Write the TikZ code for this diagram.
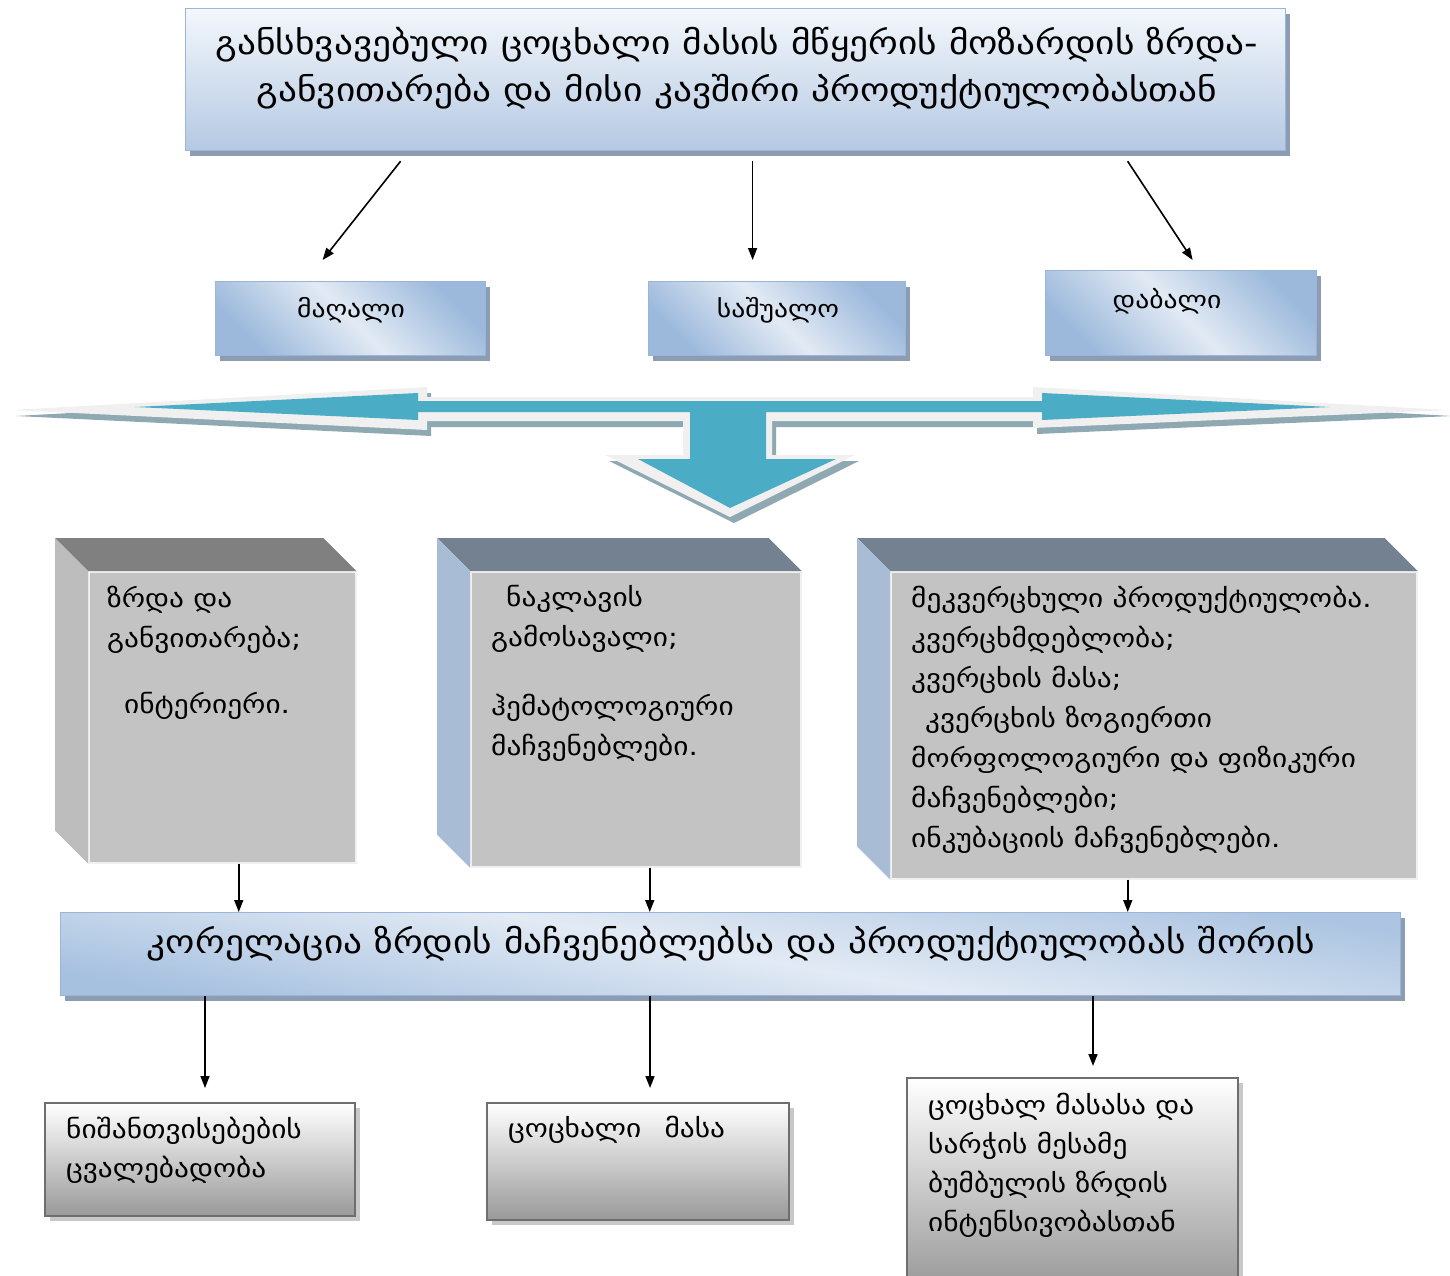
\documentclass[tikz,border=0pt]{standalone}
\usepackage{fontspec}
\setmainfont[FakeStretch=1.15]{DejaVu Sans}
\usetikzlibrary{arrows.meta,shadows,calc}
\definecolor{bshadow}{HTML}{8C9CB3}
\definecolor{bborder}{HTML}{9BB5D8}
\definecolor{blueA}{HTML}{9CB9DC}
\definecolor{blueL}{HTML}{E2EAF4}
\definecolor{titleTop}{HTML}{F3F7FB}
\definecolor{titleBot}{HTML}{B5C9E3}
\definecolor{teal}{HTML}{4BACC6}
\definecolor{arrgrey}{HTML}{F0F0F0}
\definecolor{arrshadow}{HTML}{8FA9B3}
\definecolor{frontc}{HTML}{C3C3C3}
\definecolor{topgrey}{HTML}{808080}
\definecolor{leftgrey}{HTML}{BDBDBD}
\definecolor{topslate}{HTML}{748190}
\definecolor{leftblue}{HTML}{A9BCD5}
\definecolor{gborder}{HTML}{6E6E6E}
\definecolor{gbottom}{HTML}{999999}
\definecolor{gshadow}{HTML}{C8C8C8}
\begin{document}
\begin{tikzpicture}[x=1pt,y=-1pt,
  bluebox/.style={draw=bborder, line width=1.2pt, anchor=north west, inner sep=0,
    general shadow={fill=bshadow, shadow xshift=4pt, shadow yshift=-5pt}},
  titleshade/.style={top color=titleTop, bottom color=titleBot},
  midshade/.style={top color=blueA, bottom color=blueA, middle color=blueL, shading angle=-45},
  corrshade/.style={top color=blueA!75!blueL, bottom color=blueA!90, middle color=blueL, shading angle=-10},
  greybox/.style={draw=gborder, line width=2pt, anchor=north west, inner sep=0,
    top color=white, bottom color=gbottom,
    general shadow={fill=gshadow, shadow xshift=5pt, shadow yshift=-5pt}},
  front/.style={fill=frontc, draw=white!88!gray, line width=1.5pt, anchor=north west, inner sep=0},
  txt/.style={inner sep=0, align=left, anchor=west},
  arr/.style={-{Triangle[length=12pt,width=9pt]}, line width=1.6pt}
]
\useasboundingbox (0,0) rectangle (1450,1276);

% ---------- title ----------
\node[bluebox, titleshade, minimum width=1100, minimum height=142] (title) at (185,8) {};
\node[inner sep=0, align=center, font=\fontsize{32.5}{47}\selectfont] (titletext) at (737,68)
  {განსხვავებული ცოცხალი მასის მწყერის მოზარდის ზრდა-\\განვითარება და მისი კავშირი პროდუქტიულობასთან};

% ---------- level boxes ----------
\node[bluebox, midshade, minimum width=270, minimum height=74] (b1) at (215,281) {};
\node[bluebox, midshade, minimum width=257, minimum height=74] (b2) at (648,281) {};
\node[bluebox, midshade, minimum width=271, minimum height=85] (b3) at (1045,270) {};
\node[inner sep=0, font=\fontsize{24}{26}\selectfont] (b1t) at (351,310) {მაღალი};
\node[inner sep=0, font=\fontsize{24}{26}\selectfont] (b2t) at (778,310) {საშუალო};
\node[inner sep=0, font=\fontsize{24}{26}\selectfont] (b3t) at (1167,301) {დაბალი};

\draw[arr] ([xshift=-335pt,yshift=-10pt]title.south) -- ([xshift=-28pt,yshift=21pt]b1.north);
\draw[arr] ([xshift=17pt,yshift=-10pt]title.south) -- ([xshift=-24.5pt,yshift=21pt]b2.north);
\draw[arr] ([xshift=392pt,yshift=-10pt]title.south) -- ([xshift=11.5pt,yshift=10pt]b3.north);

% ---------- three-way arrow ----------
\fill[arrshadow] (16,416) -- (431,393) -- (431,403) -- (1037,403) -- (1037,393) -- (1452,416) -- (1037,434) -- (1037,427) -- (776,427) -- (776,461) -- (859,461) -- (734,523) -- (609,461) -- (687,461) -- (687,427) -- (431,427) -- (431,436) -- cycle;
\fill[arrgrey] (12,410) -- (427,387) -- (427,397) -- (1033,397) -- (1033,387) -- (1448,410) -- (1033,428) -- (1033,421) -- (772,421) -- (772,455) -- (855,455) -- (730,517) -- (605,455) -- (683,455) -- (683,421) -- (427,421) -- (427,430) -- cycle;
\fill[teal] (135,407) -- (418,393) -- (418,401) -- (1042,401) -- (1042,393) -- (1330,407) -- (1042,420) -- (1042,412) -- (766,412) -- (766,459) -- (836,459) -- (730,508) -- (638,459) -- (690,459) -- (690,412) -- (418,412) -- (418,420) -- cycle;

% ---------- 3D boxes ----------
\node[front, minimum width=267, minimum height=291] (f1) at (88,571) {};
\fill[topgrey] (f1.north west) -- ++(-33,-33) -- ($(f1.north east)+(-33,-33)$) -- (f1.north east) -- cycle;
\fill[leftgrey] (f1.north west) -- ++(-33,-33) -- ($(f1.south west)+(-33,-33)$) -- (f1.south west) -- cycle;

\node[front, minimum width=330, minimum height=295] (f2) at (470,571) {};
\fill[topslate] (f2.north west) -- ++(-33,-33) -- ($(f2.north east)+(-33,-33)$) -- (f2.north east) -- cycle;
\fill[leftblue] (f2.north west) -- ++(-33,-33) -- ($(f2.south west)+(-33,-33)$) -- (f2.south west) -- cycle;

\node[front, minimum width=526, minimum height=307] (f3) at (890,571) {};
\fill[topslate] (f3.north west) -- ++(-33,-33) -- ($(f3.north east)+(-33,-33)$) -- (f3.north east) -- cycle;
\fill[leftblue] (f3.north west) -- ++(-33,-33) -- ($(f3.south west)+(-33,-33)$) -- (f3.south west) -- cycle;

\begin{scope}[every node/.style={txt, font=\fontsize{25.5}{40}\selectfont}]
\node (t1a) at (107,620) {ზრდა და\\განვითარება;};
\node (t1b) at (124,706) {ინტერიერი.};
\node (t2a) at (491,619) {\hspace*{15pt}ნაკლავის\\გამოსავალი;};
\node (t2b) at (491,728) {ჰემატოლოგიური\\მაჩვენებლები.};
\node (t3) at (911,720) {მეკვერცხული პროდუქტიულობა.\\კვერცხმდებლობა;\\კვერცხის მასა;\\\hspace*{14pt}კვერცხის ზოგიერთი\\მორფოლოგიური და ფიზიკური\\მაჩვენებლები;\\ინკუბაციის მაჩვენებლები.};
\end{scope}

% ---------- correlation ----------
\node[bluebox, corrshade, minimum width=1340, minimum height=83] (corr) at (60,912) {};
\node[inner sep=0, font=\fontsize{32.5}{34}\selectfont] (corrt) at (731,944)
  {კორელაცია ზრდის მაჩვენებლებსა და პროდუქტიულობას შორის};

\draw[arr] ([xshift=16.5pt]f1.south) -- ([xshift=16.5pt]f1.south |- corr.north);
\draw[arr] ([xshift=14pt]f2.south) -- ([xshift=14pt]f2.south |- corr.north);
\draw[arr] ([xshift=-26pt]f3.south) -- ([xshift=-26pt]f3.south |- corr.north);

% ---------- bottom boxes ----------
\node[greybox, minimum width=310, minimum height=113] (g1) at (44,1102) {};
\node[greybox, minimum width=302, minimum height=117] (g2) at (486,1102) {};
\node[greybox, minimum width=331, minimum height=210] (g3) at (906,1077) {};

\begin{scope}[every node/.style={txt, font=\fontsize{25.5}{39}\selectfont}]
\node (g1t) at (66,1150) {ნიშანთვისებების\\ცვალებადობა};
\node (g2t) at (508,1130) {ცოცხალი\hspace{14pt} მასა};
\node (g3t) at (928,1165) {ცოცხალ მასასა და\\სარჭის მესამე\\ბუმბულის ზრდის\\ინტენსივობასთან};
\end{scope}

\draw[arr] ([xshift=5pt]g1.north |- corr.south) -- ([xshift=5pt,yshift=14pt]g1.north);
\draw[arr] ([xshift=12pt]g2.north |- corr.south) -- ([xshift=12pt,yshift=14pt]g2.north);
\draw[arr] ([xshift=20.5pt]g3.north |- corr.south) -- ([xshift=20.5pt,yshift=11pt]g3.north);
\end{tikzpicture}
\end{document}
